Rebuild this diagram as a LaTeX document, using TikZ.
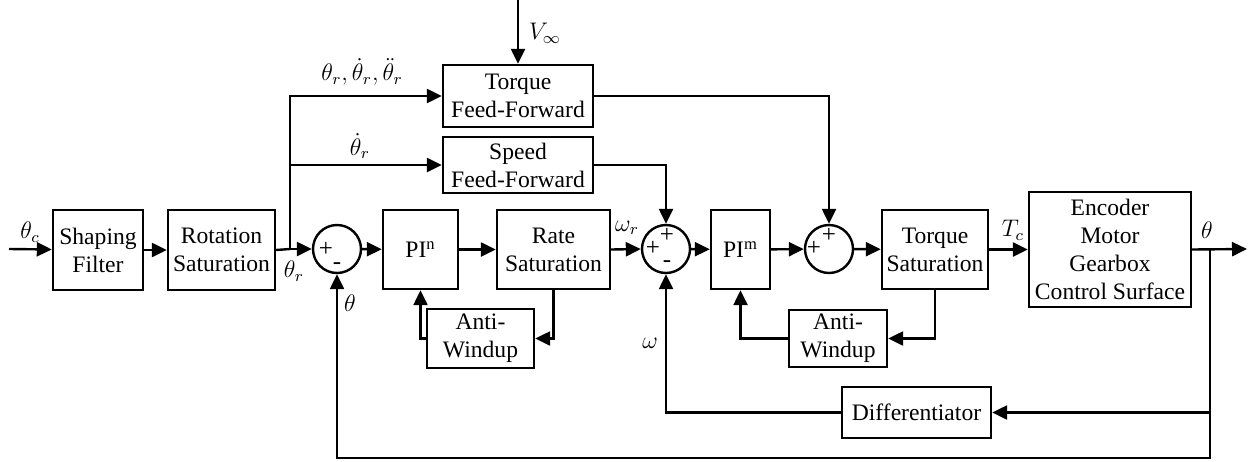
\documentclass[tikz,border=0pt]{standalone}
\usepackage{amsmath,amssymb}
\usepackage{fontspec}
\setmainfont{Liberation Serif}
\usetikzlibrary{
  calc,
  arrows.meta,
  positioning
}

\begin{document}
\begin{tikzpicture}[
            x=0.5pt, y=-0.5pt,
            font=\fontsize{11.8}{14}\selectfont,
            % Stili
            block/.style={rectangle, draw=black, line width=1.2pt, inner sep=0pt, align=center},
            sumnode/.style={circle, draw=black, line width=1.2pt, minimum size=24pt, inner sep=0pt},
            sign/.style={font=\fontsize{12.5}{12.5}\selectfont, inner sep=0pt},
            arrow/.style={line width=1.2pt, -{Triangle[length=7.5pt,width=7pt]}},
            wire/.style={line width=1.2pt}
        ]
        \useasboundingbox (0,0) rectangle (1257,461);

        % Main chain
        \node (shaping) [block, minimum width=45pt, minimum height=40pt] at (98,250) {Shaping\\Filter};
        \node (rotsat) [block, minimum width=53.5pt, minimum height=40pt] at (221.5,250) {Rotation\\Saturation};
        \node (sum1) [sumnode] at (337,249) {};
        \node (pin) [block, minimum width=37.5pt, minimum height=39.5pt] at (420.5,249.5) {PI\textsuperscript{n}};
        \node (ratesat) [block, minimum width=56.5pt, minimum height=39.5pt] at (553.5,249.5) {Rate\\Saturation};
        \node (sum2) [sumnode] at (666,249) {};
        \node (pim) [block, minimum width=29.5pt, minimum height=39.5pt] at (740.5,249.5) {PI\textsuperscript{m}};
        \node (sum3) [sumnode] at (829,249) {};
        \node (torqsat) [block, minimum width=53pt, minimum height=39.5pt] at (935,249.5) {Torque\\Saturation};
        \node (plant) [block, minimum width=81pt, minimum height=57.5pt] at (1110,249.5) {Encoder\\Motor\\Gearbox\\Control Surface};

        % Feed-forward and auxiliary blocks
        \node (tff) [block, minimum width=75pt, minimum height=31pt] at (518,96) {Torque\\Feed-Forward};
        \node (sff) [block, minimum width=75pt, minimum height=28pt] at (518,165) {Speed\\Feed-Forward};
        \node (aw1) [block, minimum width=53.5pt, minimum height=29.5pt] at (480.5,338.5) {Anti-\\Windup};
        \node (aw2) [block, minimum width=49pt, minimum height=28.5pt] at (838,338.5) {Anti-\\Windup};
        \node (diff) [block, minimum width=74.5pt, minimum height=25.5pt] at (916.5,412.5) {Differentiator};

        % Signs
        \node (s1a) [sign] at (326,249) {+};
        \node (s1b) [sign] at (337,266) {-};
        \node (s2a) [sign] at (653,248) {+};
        \node (s2b) [sign] at (667,235) {+};
        \node (s2c) [sign] at (667,264) {-};
        \node (s3a) [sign] at (814,248) {+};
        \node (s3b) [sign] at (829,235) {+};

        % Free ends
        \coordinate (cmdin) at (9,249);
        \coordinate (br) at (290,249);
        \coordinate (vin) at (518,0);
        \coordinate (tap) at (1210,249);
        \coordinate (out) at (1247,249);
        \coordinate (bot) at (1210,458);

        % Labels
        \node (lthc) at (30,232) {$\theta_c$};
        \node (lthr) at (294,271) {$\theta_r$};
        \node (lall) at (362,72) {$\theta_r,\dot{\theta}_r,\ddot{\theta}_r$};
        \node (ldot) at (360,146) {$\dot{\theta}_r$};
        \node (lvin) at (545,33) {$V_\infty$};
        \node (lthf) at (350,303) {$\theta$};
        \node (lwr) at (627,228) {$\omega_r$};
        \node (lw) at (650,343) {$\omega$};
        \node (ltc) at (1013,230) {$T_c$};
        \node (lth) at (1207,230) {$\theta$};

        % Collegamenti
        \draw [arrow] (cmdin) -- (shaping);
        \draw [arrow] (shaping) -- (rotsat);
        \draw [wire] (rotsat.east) -- (br);
        \draw [arrow] (br) -- (sum1.west);
        \draw [arrow] (br) |- (tff.west);
        \draw [arrow] (br |- sff.west) -- (sff.west);
        \draw [arrow] (vin) -- (tff.north);

        \draw [arrow] (sum1) -- (pin);
        \draw [arrow] (pin) -- (ratesat);
        \draw [arrow] (ratesat.east) -- (sum2.west);
        \draw [arrow] (sum2) -- (pim);
        \draw [arrow] (pim) -- (sum3);
        \draw [arrow] (sum3) -- (torqsat);
        \draw [arrow] (torqsat) -- (plant);
        \draw [arrow] (plant.east) -- (out);

        \draw [arrow] (sff.east) -| (sum2.north);
        \draw [arrow] (tff.east) -| (sum3.north);

        % Anti-windup loops
        \draw [arrow] (ratesat.south) |- (aw1.east);
        \draw [arrow] (aw1.west) -| (pin.south);
        \draw [arrow] (torqsat.south) |- (aw2.east);
        \draw [arrow] (aw2.west) -| (pim.south);

        % Feedback
        \draw [arrow] (tap) |- (diff.east);
        \draw [arrow] (diff.west) -| (sum2.south);
        \draw [arrow] (tap) -- (bot) -| (sum1.south);

    \end{tikzpicture}
\end{document}
